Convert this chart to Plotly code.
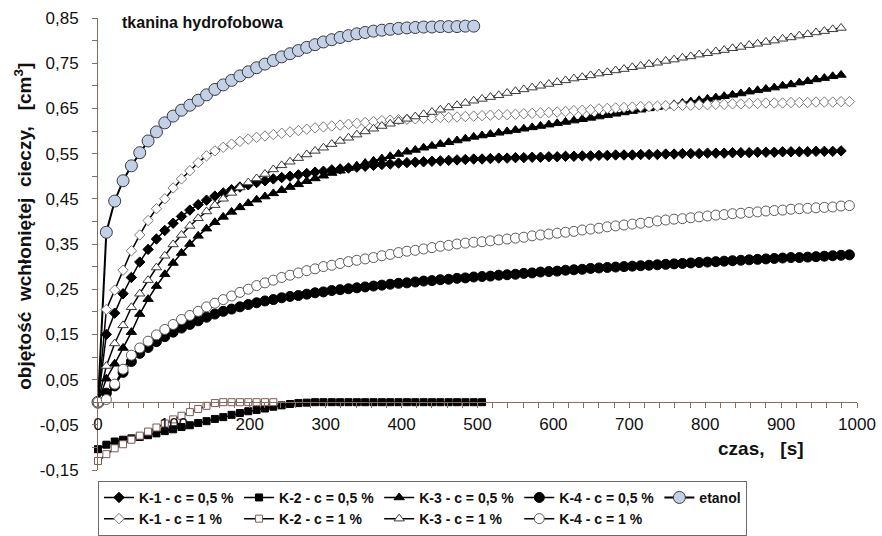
import plotly.graph_objects as go

# ---------------- data ----------------
TIME_S = [0, 11, 22, 33, 44, 55, 66, 77, 88, 99,
          110, 121, 132, 143, 154, 165, 176, 187, 198, 209,
          220, 231, 242, 253, 264, 275, 286, 297, 308, 319,
          330, 341, 352, 363, 374, 385, 396, 407, 418, 429,
          440, 451, 462, 473, 484, 495, 506, 517, 528, 539,
          550, 561, 572, 583, 594, 605, 616, 627, 638, 649,
          660, 671, 682, 693, 704, 715, 726, 737, 748, 759,
          770, 781, 792, 803, 814, 825, 836, 847, 858, 869,
          880, 891, 902, 913, 924, 935, 946, 957, 968, 979,
          990]

K1_05 = [0.0, 0.15, 0.197, 0.24, 0.276, 0.31, 0.338, 0.361, 0.38, 0.396,
         0.411, 0.425, 0.437, 0.447, 0.456, 0.463, 0.47, 0.476, 0.481, 0.486,
         0.49, 0.494, 0.497, 0.5, 0.503, 0.506, 0.509, 0.511, 0.514, 0.516,
         0.518, 0.52, 0.522, 0.524, 0.526, 0.527, 0.529, 0.53, 0.531, 0.532,
         0.533, 0.534, 0.535, 0.536, 0.537, 0.538, 0.538, 0.539, 0.54, 0.54,
         0.541, 0.541, 0.542, 0.542, 0.543, 0.543, 0.544, 0.544, 0.545, 0.545,
         0.546, 0.546, 0.547, 0.547, 0.547, 0.548, 0.548, 0.548, 0.549, 0.549,
         0.55, 0.55, 0.55, 0.551, 0.551, 0.551, 0.552, 0.552, 0.552, 0.553,
         0.553, 0.553, 0.554, 0.554, 0.554, 0.554, 0.555, 0.555, 0.555, 0.556]

K2_05 = [-0.104, -0.094, -0.087, -0.083, -0.08, -0.077, -0.073, -0.069, -0.064, -0.06,
         -0.055, -0.051, -0.046, -0.042, -0.037, -0.033, -0.028, -0.024, -0.02, -0.017,
         -0.014, -0.01, -0.007, -0.004, -0.002, -0.001, 0.0, 0.0, 0.0, 0.0,
         0.0, 0.0, 0.0, 0.0, 0.0, 0.0, 0.0, 0.0, 0.0, 0.0,
         0.0, 0.0, 0.0, 0.0, 0.0, 0.0, 0.0]

K3_05 = [0.0, 0.052, 0.085, 0.12, 0.155, 0.195, 0.228, 0.257, 0.283, 0.308,
         0.33, 0.35, 0.368, 0.384, 0.398, 0.41, 0.421, 0.431, 0.44, 0.448,
         0.455, 0.462, 0.469, 0.476, 0.482, 0.489, 0.495, 0.501, 0.507, 0.512,
         0.518, 0.523, 0.529, 0.534, 0.539, 0.544, 0.549, 0.554, 0.558, 0.563,
         0.567, 0.571, 0.575, 0.579, 0.583, 0.587, 0.59, 0.593, 0.596, 0.599,
         0.602, 0.605, 0.608, 0.611, 0.614, 0.617, 0.62, 0.623, 0.626, 0.629,
         0.632, 0.635, 0.638, 0.641, 0.644, 0.647, 0.65, 0.653, 0.656, 0.659,
         0.662, 0.665, 0.668, 0.671, 0.674, 0.677, 0.68, 0.683, 0.687, 0.69,
         0.693, 0.696, 0.7, 0.703, 0.707, 0.71, 0.714, 0.717, 0.721, 0.724]

K4_05 = [0.0, 0.02, 0.036, 0.066, 0.09, 0.108, 0.121, 0.134, 0.145, 0.155,
         0.164, 0.172, 0.18, 0.188, 0.195, 0.201, 0.206, 0.211, 0.216, 0.22,
         0.224, 0.227, 0.231, 0.234, 0.236, 0.239, 0.242, 0.244, 0.247, 0.249,
         0.251, 0.253, 0.255, 0.257, 0.259, 0.261, 0.263, 0.264, 0.266, 0.268,
         0.269, 0.271, 0.272, 0.274, 0.275, 0.277, 0.278, 0.279, 0.281, 0.282,
         0.283, 0.285, 0.286, 0.288, 0.289, 0.29, 0.292, 0.293, 0.294, 0.296,
         0.297, 0.298, 0.299, 0.3, 0.301, 0.302, 0.303, 0.304, 0.305, 0.306,
         0.307, 0.308, 0.309, 0.31, 0.311, 0.312, 0.313, 0.314, 0.315, 0.316,
         0.317, 0.318, 0.319, 0.32, 0.32, 0.321, 0.322, 0.323, 0.324, 0.325,
         0.326]

ETANOL = [0.0, 0.376, 0.445, 0.49, 0.523, 0.552, 0.578, 0.598, 0.618, 0.633,
          0.646, 0.657, 0.668, 0.68, 0.692, 0.702, 0.712, 0.722, 0.731, 0.74,
          0.748, 0.756, 0.764, 0.771, 0.778, 0.785, 0.791, 0.797, 0.802, 0.807,
          0.811, 0.815, 0.818, 0.821, 0.823, 0.825, 0.827, 0.828, 0.829, 0.83,
          0.83, 0.831, 0.831, 0.831, 0.832, 0.832]

K1_1 = [0.0, 0.205, 0.248, 0.292, 0.335, 0.37, 0.402, 0.428, 0.45, 0.474,
        0.494, 0.512, 0.53, 0.545, 0.556, 0.564, 0.571, 0.577, 0.582, 0.586,
        0.589, 0.592, 0.595, 0.598, 0.601, 0.604, 0.607, 0.609, 0.611, 0.613,
        0.615, 0.617, 0.619, 0.621, 0.623, 0.624, 0.625, 0.626, 0.627, 0.628,
        0.629, 0.63, 0.63, 0.631, 0.632, 0.633, 0.634, 0.635, 0.636, 0.636,
        0.637, 0.638, 0.639, 0.64, 0.641, 0.642, 0.643, 0.645, 0.646, 0.647,
        0.649, 0.65, 0.651, 0.652, 0.653, 0.654, 0.654, 0.655, 0.656, 0.656,
        0.657, 0.657, 0.658, 0.658, 0.659, 0.659, 0.66, 0.66, 0.661, 0.661,
        0.662, 0.662, 0.662, 0.663, 0.663, 0.663, 0.664, 0.664, 0.664, 0.665,
        0.665]

K2_1 = [-0.13, -0.115, -0.102, -0.093, -0.083, -0.074, -0.065, -0.056, -0.047, -0.038,
        -0.03, -0.022, -0.015, -0.008, -0.002, 0.0, 0.0, 0.0, 0.0, 0.0,
        0.0, 0.0]

K3_1 = [0.0, 0.08, 0.13, 0.17, 0.21, 0.24, 0.27, 0.298, 0.324, 0.349,
        0.37, 0.39, 0.407, 0.422, 0.436, 0.45, 0.463, 0.475, 0.486, 0.495,
        0.505, 0.515, 0.524, 0.532, 0.54, 0.548, 0.556, 0.563, 0.571, 0.578,
        0.585, 0.592, 0.599, 0.605, 0.611, 0.616, 0.622, 0.627, 0.632, 0.637,
        0.642, 0.647, 0.652, 0.657, 0.662, 0.667, 0.671, 0.675, 0.679, 0.684,
        0.688, 0.692, 0.696, 0.7, 0.704, 0.708, 0.712, 0.716, 0.719, 0.723,
        0.727, 0.73, 0.734, 0.737, 0.741, 0.744, 0.748, 0.751, 0.755, 0.758,
        0.762, 0.765, 0.769, 0.772, 0.776, 0.779, 0.783, 0.786, 0.79, 0.793,
        0.797, 0.8, 0.804, 0.807, 0.811, 0.814, 0.818, 0.821, 0.825, 0.828]

K4_1 = [0.0, 0.006, 0.04, 0.073, 0.104, 0.12, 0.135, 0.149, 0.161, 0.172,
        0.183, 0.192, 0.201, 0.211, 0.219, 0.227, 0.235, 0.243, 0.25, 0.258,
        0.264, 0.27, 0.276, 0.281, 0.286, 0.291, 0.295, 0.3, 0.303, 0.307,
        0.311, 0.314, 0.317, 0.32, 0.324, 0.327, 0.331, 0.334, 0.336, 0.339,
        0.342, 0.345, 0.347, 0.35, 0.352, 0.354, 0.355, 0.357, 0.359, 0.361,
        0.363, 0.365, 0.368, 0.37, 0.372, 0.374, 0.376, 0.378, 0.381, 0.383,
        0.385, 0.388, 0.39, 0.392, 0.394, 0.396, 0.398, 0.401, 0.403, 0.405,
        0.406, 0.408, 0.41, 0.412, 0.414, 0.415, 0.417, 0.418, 0.42, 0.421,
        0.423, 0.424, 0.425, 0.427, 0.428, 0.429, 0.43, 0.431, 0.432, 0.434,
        0.435]

SERIES_NAMES = ["K-1 - c = 0,5 %", "K-2 - c = 0,5 %", "K-3 - c = 0,5 %", "K-4 - c = 0,5 %",
                "etanol",
                "K-1 - c = 1 %", "K-2 - c = 1 %", "K-3 - c = 1 %", "K-4 - c = 1 %"]

X_TICKS = [0, 100, 200, 300, 400, 500, 600, 700, 800, 900, 1000]
X_TICKTEXT = ["0", "100", "200", "300", "400", "500", "600", "700", "800", "900", "1000"]
Y_TICKS = [-0.15, -0.05, 0.05, 0.15, 0.25, 0.35, 0.45, 0.55, 0.65, 0.75, 0.85]
Y_TICKTEXT = ["-0,15", "-0,05", "0,05", "0,15", "0,25", "0,35", "0,45", "0,55", "0,65", "0,75", "0,85"]

# ---------------- styles ----------------
FONT = "Liberation Sans, Arial, sans-serif"
AXIS_COLOR = "#8c6a5c"

styles = [
    dict(symbol="diamond", size=8, color="black", line=dict(color="black", width=1)),
    dict(symbol="square", size=7, color="black", line=dict(color="black", width=1)),
    dict(symbol="triangle-up", size=9, color="black", line=dict(color="black", width=1)),
    dict(symbol="circle", size=10, color="black", line=dict(color="black", width=1)),
    dict(symbol="circle", size=12, color="#c3d1e8", line=dict(color="#3a3a3a", width=1)),
    dict(symbol="diamond", size=8, color="white", line=dict(color="#7a7a7a", width=1)),
    dict(symbol="square", size=7, color="white", line=dict(color="#7a5a55", width=1)),
    dict(symbol="triangle-up", size=9, color="white", line=dict(color="#3a3a3a", width=1)),
    dict(symbol="circle", size=10, color="white", line=dict(color="#5a5a5a", width=1)),
]
values = [K1_05, K2_05, K3_05, K4_05, ETANOL, K1_1, K2_1, K3_1, K4_1]
line_w = [1.5, 1.5, 1.5, 1.5, 2, 1.5, 1.5, 1.5, 1.5]

fig = go.Figure()
for name, vals, st, lw in zip(SERIES_NAMES, values, styles, line_w):
    fig.add_trace(go.Scatter(
        x=TIME_S[:len(vals)], y=vals, name=name, mode="lines+markers",
        line=dict(color="black", width=lw), marker=st, cliponaxis=False,
    ))

fig.update_layout(
    width=882, height=536,
    margin=dict(l=98, r=25, t=18, b=66, autoexpand=False),
    paper_bgcolor="white", plot_bgcolor="white",
    font=dict(family=FONT, size=16, color="#111"),
    showlegend=True,
    legend=dict(
        orientation="h", x=0, xanchor="left", y=-0.024, yanchor="top",
        font=dict(family=FONT, size=14, color="#111", weight="bold"),
        bgcolor="white", bordercolor="#6a6a6a", borderwidth=1,
        itemwidth=30, traceorder="normal",
    ),
    xaxis=dict(
        range=[0, 1000], anchor="free", position=0.15,
        showline=True, linecolor=AXIS_COLOR, linewidth=1,
        tickmode="array", tickvals=X_TICKS, ticktext=X_TICKTEXT,
        ticks="outside", ticklen=5, tickcolor=AXIS_COLOR, tickwidth=1,
        minor=dict(dtick=20, tick0=0, ticks="outside", ticklen=5, tickcolor=AXIS_COLOR),
        showgrid=False, zeroline=False, ticklabelstandoff=1,
        tickfont=dict(family=FONT, size=17, color="#111"),
    ),
    yaxis=dict(
        range=[-0.15, 0.85],
        showline=True, linecolor=AXIS_COLOR, linewidth=1,
        tickmode="array", tickvals=Y_TICKS, ticktext=Y_TICKTEXT,
        ticks="outside", ticklen=5, tickcolor=AXIS_COLOR, tickwidth=1,
        minor=dict(dtick=0.05, tick0=0, ticks="outside", ticklen=5, tickcolor=AXIS_COLOR),
        showgrid=False, zeroline=False, ticklabelstandoff=10,
        tickfont=dict(family=FONT, size=17, color="#111"),
    ),
    annotations=[
        dict(text="tkanina hydrofobowa", xref="paper", yref="paper", x=0.029, y=0.989,
             xanchor="left", yanchor="middle", showarrow=False,
             font=dict(family=FONT, size=16, color="#111", weight="bold")),
        dict(text="objętość\u00a0 wchłoniętej\u00a0 cieczy,\u00a0\u00a0 [cm<sup>3</sup>]",
             xref="paper", yref="paper", x=-0.099, y=0.54, textangle=-90,
             xanchor="center", yanchor="middle", showarrow=False,
             font=dict(family=FONT, size=19, color="#111", weight="bold")),
        dict(text="czas,\u00a0\u00a0 [s]", xref="paper", yref="paper", x=0.8735, y=0.048,
             xanchor="center", yanchor="middle", showarrow=False,
             font=dict(family=FONT, size=19, color="#111", weight="bold")),
    ],
)

fig.write_html("out.html")
